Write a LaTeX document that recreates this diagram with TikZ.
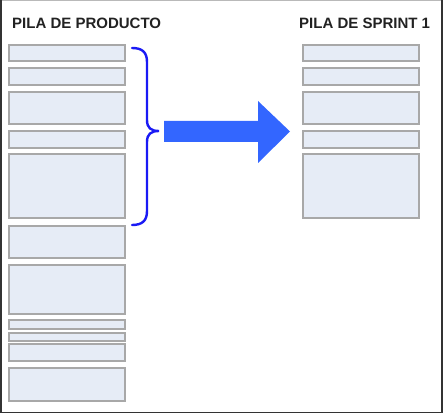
\documentclass[tikz,border=0pt]{standalone}
\usepackage{fontspec}
\setmainfont{Liberation Sans}
\definecolor{boxfill}{HTML}{E6ECF6}
\definecolor{boxline}{HTML}{A8A8A8}
\definecolor{arrowblue}{HTML}{3366FF}
\definecolor{braceblue}{HTML}{1A1AF5}
\definecolor{titlecol}{HTML}{222222}
\begin{document}
\begin{tikzpicture}[x=1pt,y=-1pt,
  itembox/.style={draw=boxline, fill=boxfill, line width=1.3pt, inner sep=0pt, outer sep=0pt, anchor=north west, minimum width=116pt},
  title/.style={font=\bfseries\fontsize{15}{18}\selectfont, text=titlecol, anchor=base west, inner sep=0pt}]
\useasboundingbox (0,0) rectangle (445,414);
\fill[white] (0,0) rectangle (445,414);
% frame
\draw[gray!55, line width=1pt] (0.8,0.5) -- (441.5,0.5);
\draw[black!80, line width=1.6pt] (0.8,0) -- (0.8,412.6) -- (441.7,412.6) -- (441.7,0);
% titles
\node[title] (t1) at (12,29) {PILA DE PRODUCTO};
\node[title] (t2) at (299,29) {PILA DE SPRINT 1};
% left column
\node[itembox, minimum height=16pt] (l1) at (9,45) {};
\node[itembox, minimum height=17pt] (l2) at (9,68) {};
\node[itembox, minimum height=32pt] (l3) at (9,92) {};
\node[itembox, minimum height=17pt] (l4) at (9,131) {};
\node[itembox, minimum height=64pt] (l5) at (9,154) {};
\node[itembox, minimum height=32pt] (l6) at (9,226) {};
\node[itembox, minimum height=49pt] (l7) at (9,265) {};
\node[itembox, minimum height=9pt] (l8) at (9,320) {};
\node[itembox, minimum height=8pt] (l9) at (9,333) {};
\node[itembox, minimum height=17pt] (l10) at (9,344) {};
\node[itembox, minimum height=33pt] (l11) at (9,368) {};
% right column
\node[itembox, minimum height=16pt] (r1) at (303,45) {};
\node[itembox, minimum height=17pt] (r2) at (303,68) {};
\node[itembox, minimum height=32pt] (r3) at (303,92) {};
\node[itembox, minimum height=17pt] (r4) at (303,131) {};
\node[itembox, minimum height=64pt] (r5) at (303,154) {};
% brace
\draw[braceblue, line width=2.4pt, line cap=round]
  (132,48) .. controls (142,48) and (147,52) .. (147,62)
  -- (147,120) .. controls (147,128) and (151,131) .. (159,131)
  .. controls (151,131) and (147,134) .. (147,142)
  -- (147,211) .. controls (147,221) and (142,225) .. (132,225);
% big arrow
\fill[arrowblue] (164,121) -- (258,121) -- (258,101) -- (290,131.5)
  -- (258,163) -- (258,142) -- (164,142) -- cycle;
\end{tikzpicture}
\end{document}
